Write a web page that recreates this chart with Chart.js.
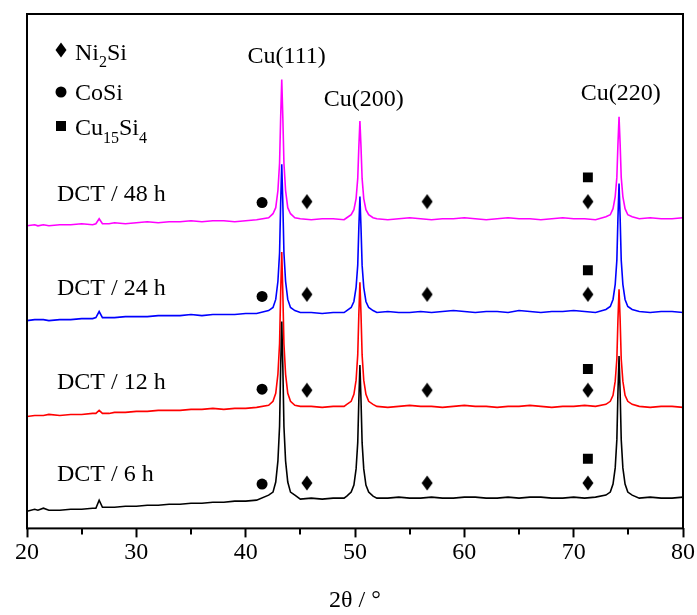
<!DOCTYPE html>
<html>
<head>
<meta charset="utf-8">
<script src="https://cdn.jsdelivr.net/npm/chart.js@4.4.1/dist/chart.umd.min.js"></script>
<style>
  body { margin: 0; background: #fff; }
  #wrap { width: 697px; height: 615px; }
</style>
</head>
<body>
<div id="wrap"><canvas id="xrd" width="697" height="615"></canvas></div>
<script>
// 2theta grid (deg) shared by the four patterns
var twoTheta = [
  20, 20.7, 21, 21.5, 22, 23, 24, 25, 26, 26.3, 26.6, 26.9, 27.5, 28, 29, 30, 31, 32, 33, 34, 35, 36, 37, 38, 39, 40, 41,
  42.1, 42.5, 42.75, 42.95, 43.1, 43.2, 43.3, 43.4, 43.5, 43.65, 43.85, 44.1, 44.5,
  45, 46, 47, 48, 49,
  49.25, 49.65, 49.9, 50.1, 50.25, 50.35, 50.45, 50.55, 50.65, 50.8, 51.0, 51.25, 51.65,
  52, 53, 54, 55, 56, 57, 58, 59, 60, 61, 62, 63, 64, 65, 66, 67, 68, 69, 70, 71, 72,
  72.95, 73.35, 73.6, 73.8, 73.95, 74.05, 74.15, 74.25, 74.35, 74.5, 74.7, 74.95, 75.35,
  76, 77, 78, 79, 80
];

// intensities (a.u., already stacked)
var dct48 = [
  300, 301, 300, 301, 300, 301, 301, 302, 301, 302, 307, 302, 302, 303, 302, 303, 304, 303, 304, 304, 305, 304, 305, 305, 304, 305, 306,
  308, 312, 318, 335, 362, 407, 445, 407, 362, 335, 318, 312, 308,
  307, 306, 307, 307, 306,
  308, 311, 316, 327, 347, 378, 404, 378, 347, 327, 316, 311, 308,
  307, 306, 307, 308, 307, 306, 307, 307, 308, 307, 306, 307, 308, 307, 307, 306, 307, 308, 307, 307, 306,
  309, 311, 317, 329, 348, 381, 408, 381, 348, 329, 317, 311, 309,
  307, 308, 307, 307, 308
];
var dct24 = [
  206, 207, 207, 207, 206, 207, 207, 208, 208, 209, 215, 209, 209, 209, 210, 210, 210, 211, 211, 211, 212, 211, 212, 212, 212, 213, 213,
  216, 219, 227, 245, 273, 322, 361, 322, 273, 245, 227, 219, 216,
  214, 214, 213, 214, 214,
  216, 219, 225, 239, 261, 298, 329, 298, 261, 239, 225, 219, 216,
  214, 215, 214, 214, 215, 214, 215, 216, 215, 214, 215, 215, 214, 216, 215, 214, 215, 215, 216, 215, 214,
  217, 220, 227, 242, 266, 308, 342, 308, 266, 242, 227, 220, 217,
  215, 214, 215, 215, 214
];
var dct12 = [
  111, 112, 112, 112, 113, 112, 113, 113, 114, 114, 117, 114, 114, 115, 115, 116, 116, 117, 117, 117, 118, 118, 119, 118, 119, 119, 120,
  122, 126, 134, 153, 183, 233, 274, 233, 183, 153, 134, 126, 122,
  121, 121, 120, 121, 121,
  123, 126, 133, 147, 172, 212, 244, 212, 172, 147, 133, 126, 123,
  121, 120, 121, 122, 121, 121, 120, 121, 122, 121, 121, 120, 121, 121, 122, 121, 120, 121, 121, 122, 121,
  123, 126, 132, 146, 168, 207, 237, 207, 168, 146, 132, 126, 123,
  121, 120, 121, 121, 120
];
var dct6 = [
  17, 19, 18, 20, 18, 18, 19, 19, 20, 20, 28, 21, 21, 21, 22, 22, 23, 23, 24, 24, 25, 25, 26, 26, 27, 27, 28,
  33, 36, 46, 67, 101, 160, 205, 160, 101, 67, 46, 36, 33,
  29, 30, 29, 30, 30,
  32, 36, 43, 59, 85, 127, 162, 127, 85, 59, 43, 36, 32,
  30, 30, 31, 30, 30, 31, 30, 30, 31, 31, 30, 30, 31, 30, 31, 31, 30, 30, 31, 30, 31,
  33, 36, 44, 60, 88, 135, 171, 135, 88, 60, 44, 36, 33,
  30, 31, 30, 30, 31
];

// phase markers: positions (deg) and heights per pattern [6h, 12h, 24h, 48h]
var ni2SiPos = [45.6, 56.6, 71.3];
var coSiPos = [41.5];
var cu15Si4Pos = [71.3];
var ni2SiLevel = [45, 137, 232, 324];
var coSiLevel = [44, 138, 230, 323];
var cu15Si4Level = [69, 158, 256, 348];

var sampleNames = ['DCT / 6 h', 'DCT / 12 h', 'DCT / 24 h', 'DCT / 48 h'];
var sampleLabelY = [47, 138, 231, 325];
var peakNames = ['Cu(111)', 'Cu(200)', 'Cu(220)'];
var peakLabelX = [43.75, 50.8, 74.3];
var peakLabelY = [461, 419, 425];

var serif = '"Liberation Serif", "Times New Roman", serif';

function diamondCanvas() {
  var c = document.createElement('canvas');
  c.width = 12; c.height = 16;
  var g = c.getContext('2d');
  g.fillStyle = '#000';
  g.beginPath();
  g.moveTo(6, 0.5); g.lineTo(11.5, 8); g.lineTo(6, 15.5); g.lineTo(0.5, 8);
  g.closePath(); g.fill();
  return c;
}
var diamond = diamondCanvas();

function toPoints(xs, ys) {
  var pts = [];
  for (var i = 0; i < xs.length; i++) pts.push({x: xs[i], y: ys[i]});
  return pts;
}
function markerPoints(xs, levels) {
  var pts = [];
  for (var j = 0; j < levels.length; j++)
    for (var i = 0; i < xs.length; i++) pts.push({x: xs[i], y: levels[j]});
  return pts;
}
function trace(data, color) {
  return {
    data: toPoints(twoTheta, data), showLine: true, borderColor: color,
    borderWidth: 1.6, pointRadius: 0, fill: false, tension: 0
  };
}

// text, frame and minor ticks
var decorations = {
  id: 'decorations',
  afterDraw: function (chart) {
    var g = chart.ctx, a = chart.chartArea;
    var xs = chart.scales.x, ys = chart.scales.y;
    g.save();
    g.strokeStyle = '#000';
    g.lineWidth = 2;
    g.strokeRect(a.left, a.top, a.right - a.left, a.bottom - a.top);
    g.beginPath();
    for (var v = 25; v < 80; v += 10) {
      var px = Math.round(xs.getPixelForValue(v));
      g.moveTo(px, a.bottom); g.lineTo(px, a.bottom + 6);
    }
    g.stroke();

    g.fillStyle = '#000';
    g.font = '24px ' + serif;
    g.textBaseline = 'alphabetic';
    g.textAlign = 'left';
    for (var i = 0; i < sampleNames.length; i++) {
      g.fillText(sampleNames[i], a.left + 30, ys.getPixelForValue(sampleLabelY[i]));
    }
    g.textAlign = 'center';
    for (var k = 0; k < peakNames.length; k++) {
      g.fillText(peakNames[k], xs.getPixelForValue(peakLabelX[k]), ys.getPixelForValue(peakLabelY[k]));
    }

    // legend
    var lx = a.left + 34, tx = a.left + 48;
    g.drawImage(diamond, lx - 6, 42);
    g.beginPath(); g.arc(lx, 92, 5.5, 0, Math.PI * 2); g.fill();
    g.fillRect(lx - 5, 121, 10, 10);
    g.textAlign = 'left';
    var w;
    g.font = '24px ' + serif;
    g.fillText('Ni', tx, 60); w = g.measureText('Ni').width;
    g.font = '16px ' + serif; g.fillText('2', tx + w, 67);
    var w2 = g.measureText('2').width;
    g.font = '24px ' + serif; g.fillText('Si', tx + w + w2, 60);
    g.fillText('CoSi', tx, 100);
    g.fillText('Cu', tx, 135); w = g.measureText('Cu').width;
    g.font = '16px ' + serif; g.fillText('15', tx + w, 143);
    w2 = g.measureText('15').width;
    g.font = '24px ' + serif; g.fillText('Si', tx + w + w2, 135);
    var w3 = g.measureText('Si').width;
    g.font = '16px ' + serif; g.fillText('4', tx + w + w2 + w3, 143);
    g.restore();
  }
};

var ctx = document.getElementById('xrd').getContext('2d');
var myChart = new Chart(ctx, {
  type: 'scatter',
  data: {
    datasets: [
      {data: markerPoints(ni2SiPos, ni2SiLevel), pointStyle: diamond, pointRadius: 6, backgroundColor: '#000'},
      {data: markerPoints(coSiPos, coSiLevel), pointStyle: 'circle', pointRadius: 5.5, backgroundColor: '#000', borderWidth: 0},
      {data: markerPoints(cu15Si4Pos, cu15Si4Level), pointStyle: 'rect', pointRadius: 7, backgroundColor: '#000', borderWidth: 0},
      trace(dct6, '#000000'),
      trace(dct12, '#ff0000'),
      trace(dct24, '#0000ff'),
      trace(dct48, '#ff00ff')
    ]
  },
  options: {
    responsive: false,
    animation: false,
    layout: { padding: { left: 27, right: 14, top: 14, bottom: 0 } },
    plugins: { legend: { display: false }, tooltip: { enabled: false } },
    scales: {
      x: {
        type: 'linear', min: 20, max: 80,
        border: { display: false },
        grid: {
          drawOnChartArea: false, tickLength: 9, tickWidth: 2,
          tickColor: function (c) { return c.tick && c.tick.value % 10 === 0 ? '#000' : 'rgba(0,0,0,0)'; }
        },
        ticks: {
          stepSize: 5, color: '#000', padding: 1, maxRotation: 0,
          font: { family: serif, size: 24 },
          callback: function (v) { return v % 10 === 0 ? v : ''; }
        },
        title: {
          display: true, text: '2θ / °', color: '#000',
          font: { family: serif, size: 24 }, padding: { top: 18, bottom: 0 }
        }
      },
      y: { display: false, min: 0, max: 510 }
    }
  },
  plugins: [decorations]
});
</script>
</body>
</html>
